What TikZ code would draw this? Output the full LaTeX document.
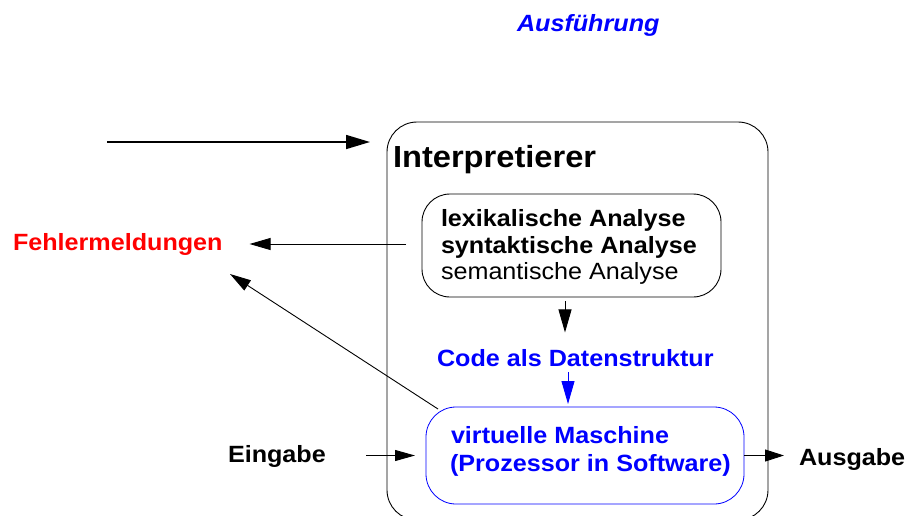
\documentclass[tikz,border=0pt]{standalone}
\usepackage{fontspec}
\setmainfont{Liberation Sans}[FakeStretch=1.07]
\usetikzlibrary{arrows.meta}
\definecolor{vmblue}{RGB}{0,0,255}
\definecolor{errred}{RGB}{255,0,0}

\begin{document}
\begin{tikzpicture}[x=1pt,y=-1pt,
  lbl/.style={anchor=base west, inner sep=0pt, outer sep=0pt,
              font=\bfseries\fontsize{23.5}{26.5}\selectfont},
  plain/.style={lbl, font=\mdseries\fontsize{23.5}{26.5}\selectfont},
  box/.style={draw, rounded corners=30pt, anchor=north west, inner sep=0pt,
              outer sep=0pt, line width=0.9pt},
  arr/.style={-{Triangle[length=21pt,width=12pt]}, line width=0.9pt}]
\clip (0,0) rectangle (920,515);
\fill[white] (0,0) rectangle (920,515);

% boxes
\node[box, minimum width=381pt, minimum height=398pt] (interp) at (387,122) {};
\node[box, rounded corners=28pt, minimum width=299pt, minimum height=103pt] (analyse) at (422,194) {};
\node[box, draw=vmblue, line width=0.8pt, minimum width=318pt, minimum height=97pt] (vm) at (426,407) {};

% labels
\node[lbl, text=vmblue, font=\bfseries\itshape\fontsize{23.5}{26.5}\selectfont] (ausf) at (517,31) {Ausführung};
\node[lbl, font=\bfseries\fontsize{30.5}{30.5}\selectfont] (title) at (393,167) {Interpretierer};
\node[lbl] (lex) at (441,226) {lexikalische Analyse};
\node[lbl] (syn) at (441,253) {syntaktische Analyse};
\node[plain] (sem) at (441,279) {semantische Analyse};
\node[lbl, text=errred] (fehler) at (13,250) {Fehlermeldungen};
\node[lbl, text=vmblue] (code) at (437,366.5) {Code als Datenstruktur};
\node[lbl, text=vmblue] (vm1) at (451,443) {virtuelle Maschine};
\node[lbl, text=vmblue] (vm2) at (450,471.5) {(Prozessor in Software)};
\node[lbl] (ein) at (228,462.5) {Eingabe};
\node[lbl] (aus) at (799,465) {Ausgabe};

% connectors
\coordinate (feed) at (107,142);
\draw[-{Triangle[length=24pt,width=14pt]}, line width=1.6pt, shorten >=17pt]
  (feed) -- (feed -| interp.west);

\coordinate (errsrc) at (406,244);
\draw[arr, shorten >=27pt] (errsrc) -- (errsrc -| fehler.east);

\coordinate (errtip) at (230,274);
\draw[arr] ([shift={(12,2)}]vm.north west) -- (errtip);

\coordinate (down) at (565,301);
\draw[arr, -{Triangle[length=23pt,width=13pt]}, shorten >=17pt] (down) -- (down |- code.north);

\coordinate (bdown) at (568,372);
\draw[arr, -{Triangle[length=23pt,width=13pt]}, draw=vmblue, fill=vmblue, shorten >=3pt]
  (bdown) -- (bdown |- vm.north);

\draw[arr, -{Triangle[length=20pt,width=11pt]}, shorten >=11pt] ([xshift=-60pt]vm.west) -- (vm.west);
\draw[arr, -{Triangle[length=19pt,width=12pt]}] (vm.east) -- ([xshift=40pt]vm.east);
\end{tikzpicture}
\end{document}
